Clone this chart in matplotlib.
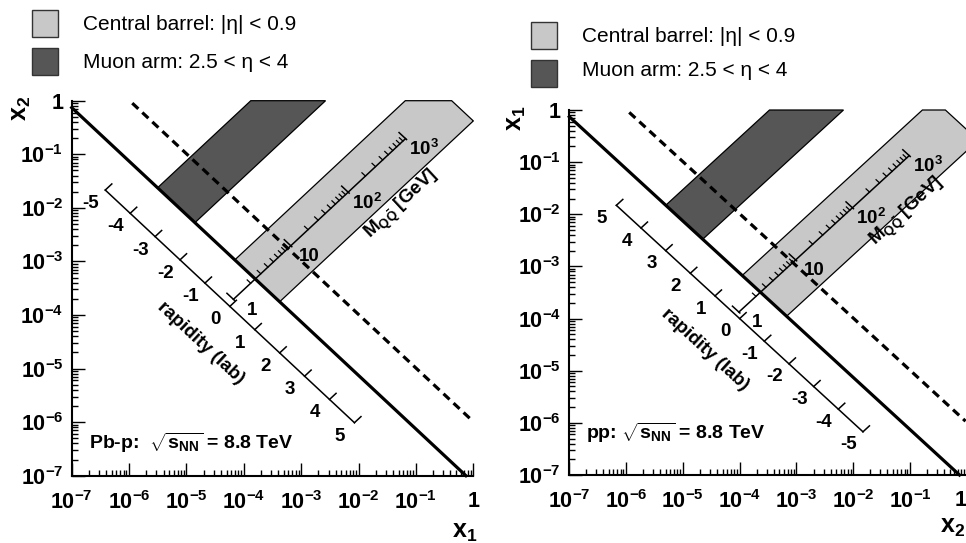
import numpy as np
import matplotlib
matplotlib.use('Agg')
import matplotlib.pyplot as plt
from matplotlib.patches import Rectangle
from matplotlib.ticker import FixedLocator, FixedFormatter, LogLocator, NullFormatter

plt.rcParams['font.family'] = 'Liberation Sans'
plt.rcParams['mathtext.fontset'] = 'custom'
plt.rcParams['mathtext.rm'] = 'Liberation Sans'
plt.rcParams['mathtext.bf'] = 'Liberation Sans:bold'
plt.rcParams['mathtext.it'] = 'Liberation Sans:italic'
plt.rcParams['mathtext.sf'] = 'Liberation Sans'
plt.rcParams['mathtext.default'] = 'bf'

# kinematics (GeV)
sqrt_s = 8800.0
y_shift = [0.465, 0.0]            # lab rapidity shift: Pb-p, pp
central_eta = [-0.9, 0.9]
muon_eta = [[-4.0, -2.5], [2.5, 4.0]]
band_mass = [2.4, 5700.0]
solid_mass = 2.4
dashed_mass = 8.9
dashed_ends = [0.9, 0.95]          # x_vert at start, x_horiz at end

rap_values = [-5, -4, -3, -2, -1, 0, 1, 2, 3, 4, 5]
rap_axis_mass = [0.80, 0.88]
mass_axis_eta = [-0.08, 0.16]
mass_range = [1.0, 1000.0]
mass_major = [1.0, 10.0, 100.0, 1000.0]
mass_labels = ['1', '10', '10$^{2}$', '10$^{3}$']

decades = [1e-7, 1e-6, 1e-5, 1e-4, 1e-3, 1e-2, 1e-1, 1.0]
decade_labels = ['10$^{-7}$', '10$^{-6}$', '10$^{-5}$', '10$^{-4}$',
                 '10$^{-3}$', '10$^{-2}$', '10$^{-1}$', '1']

light = '#c8c8c8'
dark = '#565656'

W, H = 966, 543
fig = plt.figure(figsize=(W / 100, H / 100), dpi=100)


def fpos(x, y):
    return x / W, 1 - y / H


def hv(M, eta, p):
    # returns (horizontal, vertical) coordinates for panel p
    tau = np.asarray(M, float) / sqrt_s
    y = np.asarray(eta, float) - y_shift[p]
    x1, x2 = tau * np.exp(y), tau * np.exp(-y)
    return (x1, x2) if p == 0 else (x2, x1)


def clip(pts, k):
    out = []
    n = len(pts)
    for i in range(n):
        a, b = pts[i], pts[(i + 1) % n]
        ain, bin_ = a[k] <= 0, b[k] <= 0
        if ain:
            out.append(a)
        if ain != bin_:
            t = a[k] / (a[k] - b[k])
            out.append(a + t * (b - a))
    return out


def band(ax, p, etas, color):
    Ms = [band_mass[0], band_mass[0], band_mass[1], band_mass[1]]
    es = [etas[0], etas[1], etas[1], etas[0]]
    h, v = hv(Ms, es, p)
    pts = [np.array([np.log10(a), np.log10(b)]) for a, b in zip(h, v)]
    pts = clip(clip(pts, 0), 1)
    pts = np.array(pts)
    ax.fill(10 ** pts[:, 0], 10 ** pts[:, 1], facecolor=color,
            edgecolor='black', lw=0.9, zorder=1, clip_on=False)


axes_px = [(71.7, 100.7, 473.3, 475.7), (569.3, 110.0, 966.8, 475.0)]
for p, (x0, y0, x1p, y1p) in enumerate(axes_px):
    ax = fig.add_axes([x0 / W, 1 - y1p / H, (x1p - x0) / W, (y1p - y0) / H])
    ax.set_xscale('log')
    ax.set_yscale('log')
    ax.set_xlim(1e-7, 1)
    ax.set_ylim(1e-7, 1)
    for s in ['top', 'right']:
        ax.spines[s].set_visible(False)
    for s in ['left', 'bottom']:
        ax.spines[s].set_linewidth(1.5)
    for axis in [ax.xaxis, ax.yaxis]:
        axis.set_major_locator(FixedLocator(decades))
        axis.set_major_formatter(FixedFormatter(decade_labels))
        axis.set_minor_locator(LogLocator(base=10, subs=np.arange(2, 10), numticks=20))
        axis.set_minor_formatter(NullFormatter())
    ax.tick_params(which='both', direction='in', width=1.0)
    ax.tick_params(which='major', length=9.5, labelsize=15.5)
    ax.tick_params(which='minor', length=4.5)
    ax.tick_params(axis='x', which='major', pad=11)
    ax.tick_params(axis='y', which='major', pad=6)
    for lab in ax.get_xticklabels() + ax.get_yticklabels():
        lab.set_fontweight('bold')
    if p == 1:
        # last x label sits at the figure edge
        ax.get_xticklabels()[-1].set_horizontalalignment('right')

    # angle of the mass direction in display space
    fig.canvas.draw()
    a0 = ax.transData.transform((1e-4, 1e-4))
    a1 = ax.transData.transform((1e-3, 1e-3))
    ang = np.degrees(np.arctan2(a1[1] - a0[1], a1[0] - a0[0]))

    # acceptance bands
    band(ax, p, central_eta, light)
    band(ax, p, muon_eta[p], dark)

    # threshold lines
    t2 = (solid_mass / sqrt_s) ** 2
    hs = np.array([1e-7, t2 / 1e-7])
    ax.plot(hs, t2 / hs, color='black', lw=2.3, zorder=4, clip_on=False)
    t2 = (dashed_mass / sqrt_s) ** 2
    hs = np.array([t2 / dashed_ends[0], dashed_ends[1]])
    ax.plot(hs, t2 / hs, color='black', lw=2.3, dashes=(2.6, 1.7), zorder=4,
            clip_on=False)

    # rapidity axis
    Ma = rap_axis_mass[p]
    h, v = hv([Ma, Ma], [rap_values[0], rap_values[-1]], p)
    ax.plot(h, v, color='black', lw=1.1, zorder=3)
    for r in rap_values:
        h, v = hv([Ma, Ma * 1.3], [r, r], p)
        ax.plot(h, v, color='black', lw=1.1, zorder=3)
        h, v = hv(Ma * 0.56, r, p)
        ax.text(h, v, str(r), fontsize=13.5, fontweight='bold',
                ha='center', va='center')
    h, v = hv(Ma * 0.25, [0.2, 0.0][p], p)
    ax.text(h, v, 'rapidity (lab)', fontsize=13.5, fontweight='bold',
            rotation=-ang, ha='center', va='center', rotation_mode='anchor')

    # mass axis
    ea = mass_axis_eta[p]
    ul = -1 if p == 0 else 1   # eta direction toward upper-left
    h, v = hv(mass_range, [ea, ea], p)
    ax.plot(h, v, color='black', lw=1.1, zorder=3)
    for dec in mass_major[:-1]:
        for k in range(2, 10):
            h, v = hv([dec * k, dec * k], [ea, ea + ul * 0.14], p)
            ax.plot(h, v, color='black', lw=0.9, zorder=3)
    for M in mass_major:
        h, v = hv([M, M], [ea - ul * 0.04, ea + ul * 0.26], p)
        ax.plot(h, v, color='black', lw=1.1, zorder=3)
    for M, lab in zip(mass_major, mass_labels):
        h, v = hv(M * 1.15, ea - ul * 0.6, p)
        ax.text(h, v, lab, fontsize=13.5, fontweight='bold',
                ha='center', va='center')
    h, v = hv([222.0, 281.0][p], [1.28, -1.05][p], p)
    ax.text(h, v, r'M$_{Q\bar{Q}}$ [GeV]', fontsize=13.5, fontweight='bold',
            rotation=ang, ha='center', va='center', rotation_mode='anchor')

# energy labels
fig.text(*fpos(191.7, 443), r'Pb-p:  $\sqrt{s_{NN}}$ = 8.8 TeV', fontsize=14,
         fontweight='bold', ha='center', va='center')
fig.text(*fpos(676, 433), r'pp: $\sqrt{s_{NN}}$ = 8.8 TeV', fontsize=14,
         fontweight='bold', ha='center', va='center')

# axis titles
fig.text(*fpos(465, 532), r'x$_1$', fontsize=18, fontweight='bold', ha='center', va='center')
fig.text(*fpos(21, 108), r'x$_2$', fontsize=18, fontweight='bold', ha='center',
         va='center', rotation=90)
fig.text(*fpos(965, 527), r'x$_2$', fontsize=18, fontweight='bold', ha='right', va='center')
fig.text(*fpos(516, 118), r'x$_1$', fontsize=18, fontweight='bold', ha='center',
         va='center', rotation=90)

# legends
legend_px = [(32, 10, 83, [25, 63]), (531, 22, 582, [37, 70])]
for bx, by, tx, ty in legend_px:
    for i, (col, txt) in enumerate([(light, 'Central barrel: |η| < 0.9'),
                                     (dark, 'Muon arm: 2.5 < η < 4')]):
        yy = by + i * 37.5
        fig.patches.append(Rectangle(fpos(bx, yy + 27), 26 / W, 27 / H,
                                     transform=fig.transFigure, facecolor=col,
                                     edgecolor='#333333', lw=1.0))
        fig.text(*fpos(tx, ty[i]), txt, fontsize=15, ha='left', va='center')

fig.savefig('out.png', dpi=100)
